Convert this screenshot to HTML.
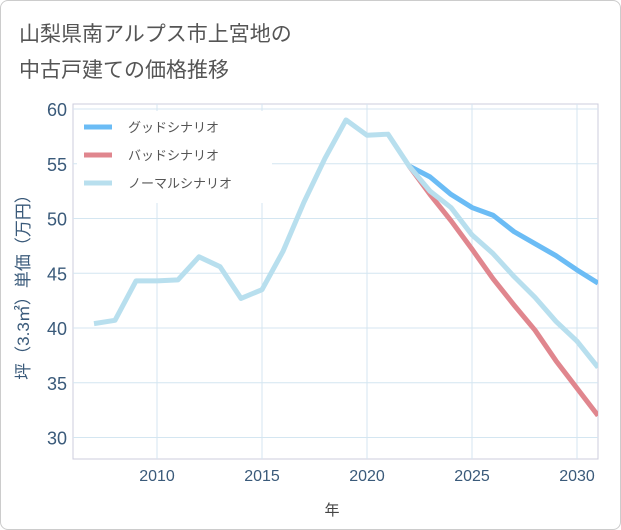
<!DOCTYPE html>
<html><head><meta charset="utf-8"><style>
body{margin:0;background:#fff;font-family:"Liberation Sans","Noto Sans CJK JP",sans-serif;}
#wrap{position:relative;width:619px;height:528px;border:1px solid #ccc;border-radius:8px;overflow:hidden;}
</style></head><body>
<div id="wrap">
<svg id="svg" width="621" height="530">
<text x="18" y="40" font-size="21" fill="#555">山梨県南アルプス市上宮地の</text>
<text x="18" y="76" font-size="21" fill="#555">中古戸建ての価格推移</text>
<g id="grid"></g><g id="lines"></g>
<text x="331" y="514" font-size="15" fill="#444" text-anchor="middle">年</text>
<text transform="translate(28,282) rotate(-90)" font-size="17" fill="#3a5a7a" text-anchor="middle">坪（3.3㎡）単価（万円）</text>
<g>
<rect x="76" y="110" width="195" height="92" fill="#fff"/>
<line x1="83" y1="126" x2="111" y2="126" stroke="#6bbcf5" stroke-width="5"/>
<text x="127" y="131" font-size="13" fill="#555">グッドシナリオ</text>
<line x1="83" y1="154" x2="111" y2="154" stroke="#e0868e" stroke-width="5"/>
<text x="127" y="159" font-size="13" fill="#555">バッドシナリオ</text>
<line x1="83" y1="182" x2="111" y2="182" stroke="#b8dfee" stroke-width="5"/>
<text x="127" y="187" font-size="13" fill="#555">ノーマルシナリオ</text>
</g>
</svg></div>
<script>
const normalYears=[2007,2008,2009,2010,2011,2012,2013,2014,2015,2016,2017,2018,2019,2020,2021,2022,2023,2024,2025,2026,2027,2028,2029,2030,2031];
const normalValues=[40.4,40.7,44.3,44.3,44.4,46.5,45.6,42.7,43.5,47,51.5,55.5,59,57.6,57.7,54.8,52.5,51,48.5,46.8,44.7,42.8,40.6,38.8,36.4];
const forecastYears=[2022,2023,2024,2025,2026,2027,2028,2029,2030,2031];
const goodValues=[54.8,53.8,52.2,51,50.3,48.8,47.7,46.6,45.3,44.1];
const badValues=[54.8,52.2,49.8,47.2,44.5,42.1,39.8,37,34.5,32];
const xTicks=[2010,2015,2020,2025,2030];
const yTicks=[30,35,40,45,50,55,60];
const L=72,R=597,T=103,B=458;
const X=y=>156+(y-2010)*21;
const Y=v=>108+(60-v)*10.95;
const ns="http://www.w3.org/2000/svg";
const grid=document.getElementById('grid'),lines=document.getElementById('lines');
function mk(tag,at,p){const e=document.createElementNS(ns,tag);for(const k in at)e.setAttribute(k,at[k]);p.appendChild(e);return e;}
const frame=mk('rect',{x:L,y:T,width:R-L,height:B-T,fill:'none',stroke:'#ccd',"stroke-width":1},grid);


yTicks.forEach(v=>{const l=mk('line',{x1:L,x2:R,y1:Y(v),y2:Y(v),stroke:'#d4e6f1'},grid);


const t=mk('text',{x:L-6,y:Y(v)+7,"font-size":18,fill:'#3a5a7a',"text-anchor":'end'},grid);t.textContent=v;

});
xTicks.forEach(v=>{const l=mk('line',{x1:X(v),x2:X(v),y1:T,y2:B,stroke:'#d4e6f1'},grid);


const t=mk('text',{x:X(v),y:B+22,"font-size":16,fill:'#3a5a7a',"text-anchor":'middle'},grid);t.textContent=v;

});
function line(ys,vs,c,name){const pts=ys.map((y,i)=>X(y)+','+Y(vs[i])).join(' ');
const p=mk('polyline',{points:pts,fill:'none',stroke:c,"stroke-width":5,"stroke-linejoin":'round'},lines);

}
const cp=mk('clipPath',{id:'cp'},lines);mk('rect',{x:L,y:T,width:R-L,height:B-T},cp);
lines.setAttribute('clip-path','url(#cp)');
line(forecastYears,goodValues,'#6bbcf5','good-scenario-line');
line(forecastYears,badValues,'#e0868e','bad-scenario-line');
line(normalYears,normalValues,'#b8dfee','normal-scenario-line');
</script>
</body></html>
